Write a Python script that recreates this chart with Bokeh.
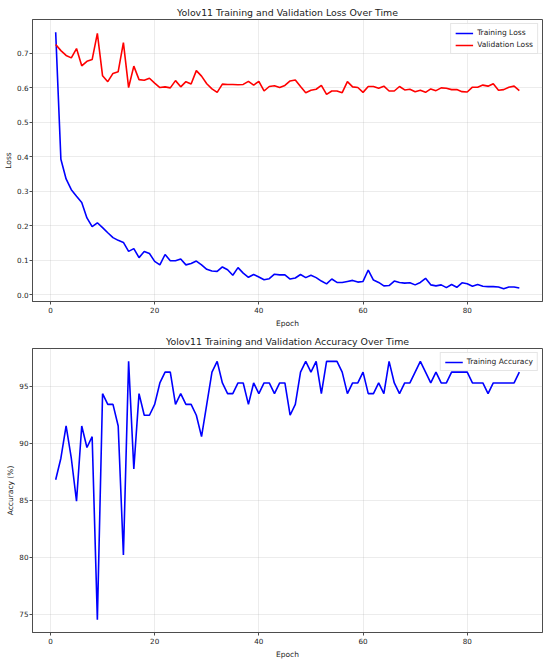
from bokeh.plotting import figure
from bokeh.layouts import column
from bokeh.models import Range1d, FixedTicker, NumeralTickFormatter
from bokeh.embed import file_html
from bokeh.resources import INLINE

epochs = list(range(1, 91))

train_loss = [
    0.760, 0.392, 0.335, 0.304, 0.285, 0.267, 0.222, 0.197, 0.208, 0.194,
    0.179, 0.165, 0.157, 0.151, 0.125, 0.133, 0.107, 0.125, 0.119, 0.096,
    0.086, 0.116, 0.098, 0.098, 0.103, 0.086, 0.090, 0.097, 0.086, 0.073,
    0.068, 0.067, 0.080, 0.072, 0.056, 0.078, 0.062, 0.050, 0.058, 0.051,
    0.043, 0.046, 0.059, 0.057, 0.057, 0.045, 0.048, 0.058, 0.049, 0.056,
    0.049, 0.039, 0.031, 0.045, 0.035, 0.035, 0.038, 0.041, 0.036, 0.038,
    0.071, 0.042, 0.035, 0.025, 0.026, 0.039, 0.035, 0.033, 0.034, 0.028,
    0.035, 0.047, 0.028, 0.025, 0.028, 0.020, 0.029, 0.021, 0.034, 0.031,
    0.024, 0.029, 0.024, 0.023, 0.023, 0.022, 0.017, 0.022, 0.022, 0.019,
]

val_loss = [
    0.725, 0.707, 0.693, 0.686, 0.713, 0.663, 0.676, 0.681, 0.757, 0.634,
    0.617, 0.641, 0.646, 0.730, 0.600, 0.662, 0.623, 0.621, 0.627, 0.613,
    0.600, 0.602, 0.599, 0.620, 0.602, 0.617, 0.610, 0.649, 0.633, 0.611,
    0.596, 0.586, 0.610, 0.609, 0.609, 0.608, 0.609, 0.618, 0.607, 0.618,
    0.590, 0.603, 0.605, 0.600, 0.606, 0.619, 0.622, 0.603, 0.585, 0.592,
    0.595, 0.606, 0.580, 0.590, 0.590, 0.585, 0.617, 0.602, 0.600, 0.586,
    0.603, 0.603, 0.598, 0.604, 0.590, 0.590, 0.603, 0.593, 0.595, 0.588,
    0.592, 0.586, 0.596, 0.591, 0.599, 0.598, 0.594, 0.594, 0.588, 0.587,
    0.601, 0.601, 0.607, 0.604, 0.611, 0.592, 0.594, 0.601, 0.604, 0.591,
]

train_acc = [
    86.79, 88.68, 91.51, 88.68, 84.91, 91.51, 89.62, 90.57, 74.53, 94.34,
    93.40, 93.40, 91.51, 80.19, 97.17, 87.74, 94.34, 92.45, 92.45, 93.40,
    95.28, 96.23, 96.23, 93.40, 94.34, 93.40, 93.40, 92.45, 90.57, 93.40,
    96.23, 97.17, 95.28, 94.34, 94.34, 95.28, 95.28, 93.40, 95.28, 94.34,
    95.28, 95.28, 94.34, 95.28, 95.28, 92.45, 93.40, 96.23, 97.17, 96.23,
    97.17, 94.34, 97.17, 97.17, 97.17, 96.23, 94.34, 95.28, 95.28, 96.23,
    94.34, 94.34, 95.28, 94.34, 97.17, 95.28, 94.34, 95.28, 95.28, 96.23,
    97.17, 96.23, 95.28, 96.23, 95.28, 95.28, 96.23, 96.23, 96.23, 96.23,
    95.28, 95.28, 95.28, 94.34, 95.28, 95.28, 95.28, 95.28, 95.28, 96.23,
]

epoch_ticks = [0, 20, 40, 60, 80]
loss_ticks = [0.0, 0.1, 0.2, 0.3, 0.4, 0.5, 0.6, 0.7]
acc_ticks = [75, 80, 85, 90, 95]

title_loss = "Yolov11 Training and Validation Loss Over Time"
title_acc = "Yolov11 Training and Validation Accuracy Over Time"

FONT = "DejaVu Sans"
TXT = "#222222"
SPINE = "#4d4d4d"


def style(p, ylabel, yticks):
    p.title.text_font = FONT
    p.title.text_font_size = "9.4px"
    p.title.text_font_style = "normal"
    p.title.text_color = TXT
    p.title.align = "center"
    p.title.standoff = 3
    p.outline_line_color = SPINE
    p.outline_line_width = 1
    p.background_fill_color = "white"
    p.border_fill_color = "white"
    for ax in (p.xaxis, p.yaxis):
        ax.axis_line_color = SPINE
        ax.major_tick_line_color = SPINE
        ax.major_tick_out = 3
        ax.major_tick_in = 0
        ax.minor_tick_line_color = None
        ax.major_label_text_font = FONT
        ax.major_label_text_font_size = "7.2px"
        ax.major_label_text_color = TXT
        ax.axis_label_text_font = FONT
        ax.axis_label_text_font_size = "7.5px"
        ax.axis_label_text_font_style = "normal"
        ax.axis_label_text_color = TXT
    p.xaxis.major_label_standoff = 2
    p.xaxis.axis_label_standoff = 3
    p.yaxis.major_label_standoff = 1
    p.yaxis.axis_label_standoff = 1
    p.xaxis.ticker = FixedTicker(ticks=epoch_ticks)
    p.yaxis.ticker = FixedTicker(ticks=yticks)
    p.xaxis.axis_label = "Epoch"
    p.yaxis.axis_label = ylabel
    p.grid.grid_line_color = "#b0b0b0"
    p.grid.grid_line_alpha = 0.3
    p.grid.grid_line_width = 0.8
    p.xgrid.ticker = FixedTicker(ticks=epoch_ticks)
    p.ygrid.ticker = FixedTicker(ticks=yticks)


def style_legend(p):
    lg = p.legend[0]
    lg.location = "top_right"
    lg.label_text_font = FONT
    lg.label_text_font_size = "7.5px"
    lg.label_text_color = TXT
    lg.glyph_width = 18
    lg.glyph_height = 8
    lg.label_height = 8
    lg.label_standoff = 4
    lg.spacing = 3
    lg.padding = 4
    lg.margin = 4
    lg.border_line_color = "#cccccc"
    lg.border_line_width = 1
    lg.background_fill_alpha = 0.85


p1 = figure(width=550, height=330, x_range=Range1d(-3.45, 94.45),
            y_range=Range1d(-0.0202, 0.7972),
            title=title_loss, output_backend="svg", toolbar_location=None,
            min_border_left=32, min_border_right=8, min_border_top=19,
            min_border_bottom=27)
p1.line(epochs, train_loss, line_color="#0000ff", line_width=1.6,
        legend_label="Training Loss")
p1.line(epochs, val_loss, line_color="#ff0000", line_width=1.6,
        legend_label="Validation Loss")
style(p1, "Loss", loss_ticks)
p1.yaxis.formatter = NumeralTickFormatter(format="0.0")
style_legend(p1)

p2 = figure(width=550, height=331, x_range=Range1d(-3.45, 94.45),
            y_range=Range1d(73.40, 98.30),
            title=title_acc, output_backend="svg", toolbar_location=None,
            min_border_left=32, min_border_right=8, min_border_top=18,
            min_border_bottom=29)
p2.line(epochs, train_acc, line_color="#0000ff", line_width=1.6,
        legend_label="Training Accuracy")
style(p2, "Accuracy (%)", acc_ticks)
style_legend(p2)

layout = column(p1, p2, spacing=0)
open("out.html", "w").write(file_html(layout, INLINE))
